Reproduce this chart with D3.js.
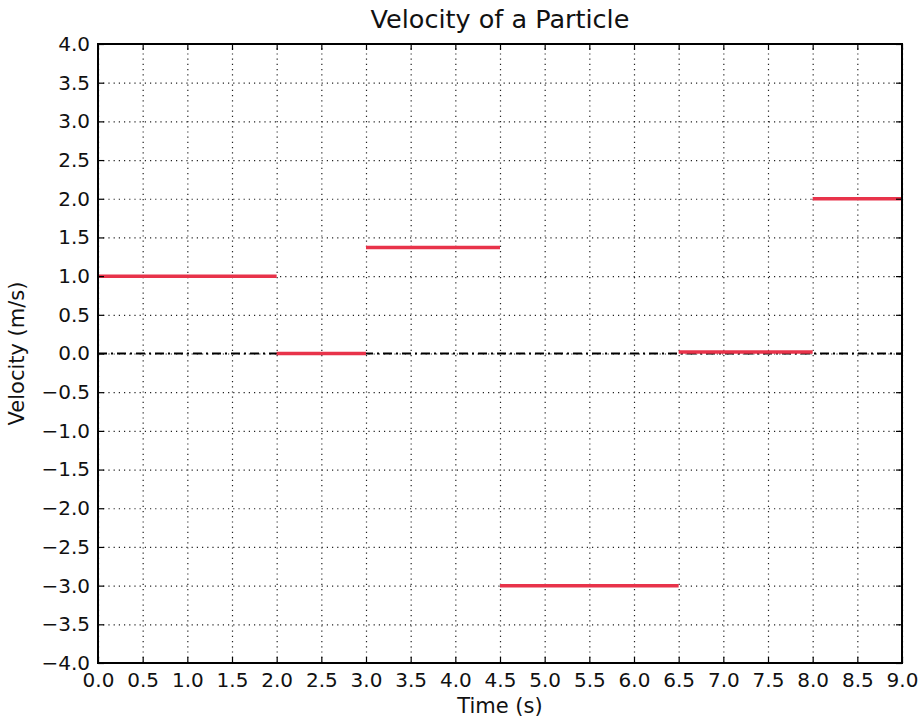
<!DOCTYPE html>
<html>
<head>
<meta charset="utf-8">
<script src="https://cdn.jsdelivr.net/npm/d3@7"></script>
<style>
  body { margin: 0; background: #fff; }
  text { font-family: "DejaVu Sans", sans-serif; fill: #111; }
  .grid line { stroke: #222; stroke-dasharray: 1.2,4; stroke-width: 1.2; }
  .grid path { display: none; }
</style>
</head>
<body>
<script>
// piecewise velocity segments
var segStart = [0, 2, 3, 4.5, 6.5, 8];
var segEnd   = [2, 3, 4.5, 6.5, 8, 9];
var segVel   = [1.0, 0.0, 1.37, -3.0, 0.02, 2.0];

var xTicks = d3.range(0, 9.01, 0.5);
var yTicks = d3.range(-4, 4.01, 0.5);

var margin = {top: 44, right: 19, bottom: 54, left: 98},
    width = 921 - margin.left - margin.right,
    height = 717 - margin.top - margin.bottom;

var svg = d3.select("body").append("svg")
    .attr("width", 921)
    .attr("height", 717)
  .append("g")
    .attr("transform", "translate(" + margin.left + "," + margin.top + ")");

var x = d3.scaleLinear().domain([0, 9]).range([0, width]);
var y = d3.scaleLinear().domain([-4, 4]).range([height, 0]);

var fmt = function(d) { return d3.format(".1f")(d).replace("-", "\u2212"); };

// dotted grid
svg.append("g").attr("class", "grid")
    .attr("transform", "translate(0," + height + ")")
    .call(d3.axisBottom(x).tickValues(xTicks).tickSize(-height).tickFormat(""));
svg.append("g").attr("class", "grid")
    .call(d3.axisLeft(y).tickValues(yTicks).tickSize(-width).tickFormat(""));

// zero line, dash-dot
svg.append("line")
    .attr("x1", x(0)).attr("x2", x(9))
    .attr("y1", y(0)).attr("y2", y(0))
    .attr("stroke", "#000")
    .attr("stroke-width", 2)
    .attr("stroke-dasharray", "9,4,2,4");

// velocity segments
svg.selectAll(".seg")
    .data(segVel)
  .enter().append("line")
    .attr("class", "seg")
    .attr("x1", function(d, i) { return x(segStart[i]); })
    .attr("x2", function(d, i) { return x(segEnd[i]); })
    .attr("y1", function(d) { return y(d); })
    .attr("y2", function(d) { return y(d); })
    .attr("stroke", "#e8334a")
    .attr("stroke-width", 3.5);

// axes with inward ticks on all sides
var axBottom = svg.append("g")
    .attr("transform", "translate(0," + height + ")")
    .call(d3.axisBottom(x).tickValues(xTicks).tickSize(-6).tickPadding(10).tickFormat(fmt));
var axTop = svg.append("g")
    .call(d3.axisTop(x).tickValues(xTicks).tickSize(-6).tickFormat(""));
var axLeft = svg.append("g")
    .call(d3.axisLeft(y).tickValues(yTicks).tickSize(-6).tickPadding(8).tickFormat(fmt));
var axRight = svg.append("g")
    .attr("transform", "translate(" + width + ",0)")
    .call(d3.axisRight(y).tickValues(yTicks).tickSize(-6).tickFormat(""));

[axBottom, axTop, axLeft, axRight].forEach(function(a) {
  a.select(".domain").remove();
  a.selectAll(".tick line").attr("stroke", "#000").attr("stroke-width", 1.2);
  a.selectAll("text").style("font-size", "20px").attr("fill", "#111");
});

// frame
svg.append("rect")
    .attr("width", width).attr("height", height)
    .attr("fill", "none").attr("stroke", "#000").attr("stroke-width", 2);

// labels
svg.append("text")
    .attr("x", width / 2).attr("y", -16)
    .attr("text-anchor", "middle")
    .style("font-size", "25.5px")
    .text("Velocity of a Particle");

svg.append("text")
    .attr("x", width / 2).attr("y", height + 50)
    .attr("text-anchor", "middle")
    .style("font-size", "21px")
    .text("Time (s)");

svg.append("text")
    .attr("transform", "rotate(-90)")
    .attr("x", -height / 2).attr("y", -74)
    .attr("text-anchor", "middle")
    .style("font-size", "21px")
    .text("Velocity (m/s)");
</script>
</body>
</html>
